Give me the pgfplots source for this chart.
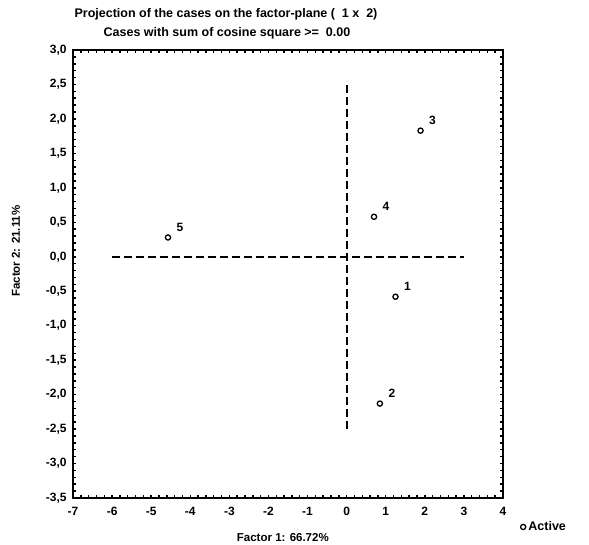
\documentclass[border=0pt]{standalone}
\usepackage{fontspec}
\setmainfont{Liberation Sans}
\usepackage{pgfplots}
\pgfplotsset{compat=1.18}
\begin{document}
\begin{tikzpicture}[x=1pt,y=1pt]
\path[use as bounding box] (0,0) rectangle (589,545);
\node[font=\fontsize{12.5}{14}\selectfont\bfseries] at (226,531) {Projection of the cases on the factor-plane (\ \ 1 x\ \ 2)};
\node[font=\fontsize{12.5}{14}\selectfont\bfseries] at (227,512) {Cases with sum of cosine square >=\ \ 0.00};
\begin{axis}[at={(73pt,47pt)}, anchor=south west, width=430pt, height=448pt, scale only axis,
 xmin=-7, xmax=4, ymin=-3.5, ymax=3,
 xtick={-7,-6,...,4}, ytick={-3.5,-3,...,3},
 minor x tick num=4, minor y tick num=4,
 tick align=inside, major tick length=3.2pt, minor tick length=2.8pt,
 every axis/.append style={line width=2pt},
 axis line style={line width=2pt},
 every tick/.style={black, line width=1.5pt},
 tick label style={font=\fontsize{12}{14}\selectfont\bfseries},
 /pgf/number format/assume math mode=true,
 xticklabel style={yshift=-5pt, /pgf/number format/.cd, fixed, precision=0},
 yticklabel style={xshift=-2pt, /pgf/number format/.cd, fixed, fixed zerofill, precision=1, use comma},
 xlabel={Factor 1: 66.72\%}, ylabel={Factor 2: 21.11\%},
 label style={font=\fontsize{11.5}{13}\selectfont\bfseries},
 xlabel style={at={(rel axis cs:0.488,-0.089)}, anchor=center},
 ylabel style={at={(rel axis cs:-0.1326,0.551)}, anchor=center, rotate=0},
 legend style={at={(rel axis cs:1.037,-0.0647)}, anchor=west, draw=none, fill=none,
   inner sep=0pt, font=\fontsize{12.5}{14}\selectfont\bfseries, legend cell align=left},
 legend image code/.code={\draw[black,line width=1.3pt] (2.8pt,0pt) circle (2.6pt);},
 clip=false,
]
\addplot[black, line width=1.9pt, dash pattern=on 8pt off 4pt, forget plot] coordinates {(0,-2.5) (0,2.5)};
\addplot[black, line width=1.6pt, dash pattern=on 8pt off 4pt, forget plot] coordinates {(-6,0) (3,0)};
\addplot[black, only marks, mark=o, mark size=2.6pt, mark options={line width=1.3pt},
  point meta=explicit symbolic, nodes near coords,
  nodes near coords style={anchor=center, xshift=12pt, yshift=10pt, font=\fontsize{12}{14}\selectfont\bfseries, black}]
  table[meta=lab] {
x y lab
1.25 -0.58 1
0.85 -2.13 2
1.89 1.83 3
0.70 0.58 4
-4.57 0.28 5
};
\addlegendentry{Active}
\end{axis}
\end{tikzpicture}
\end{document}
